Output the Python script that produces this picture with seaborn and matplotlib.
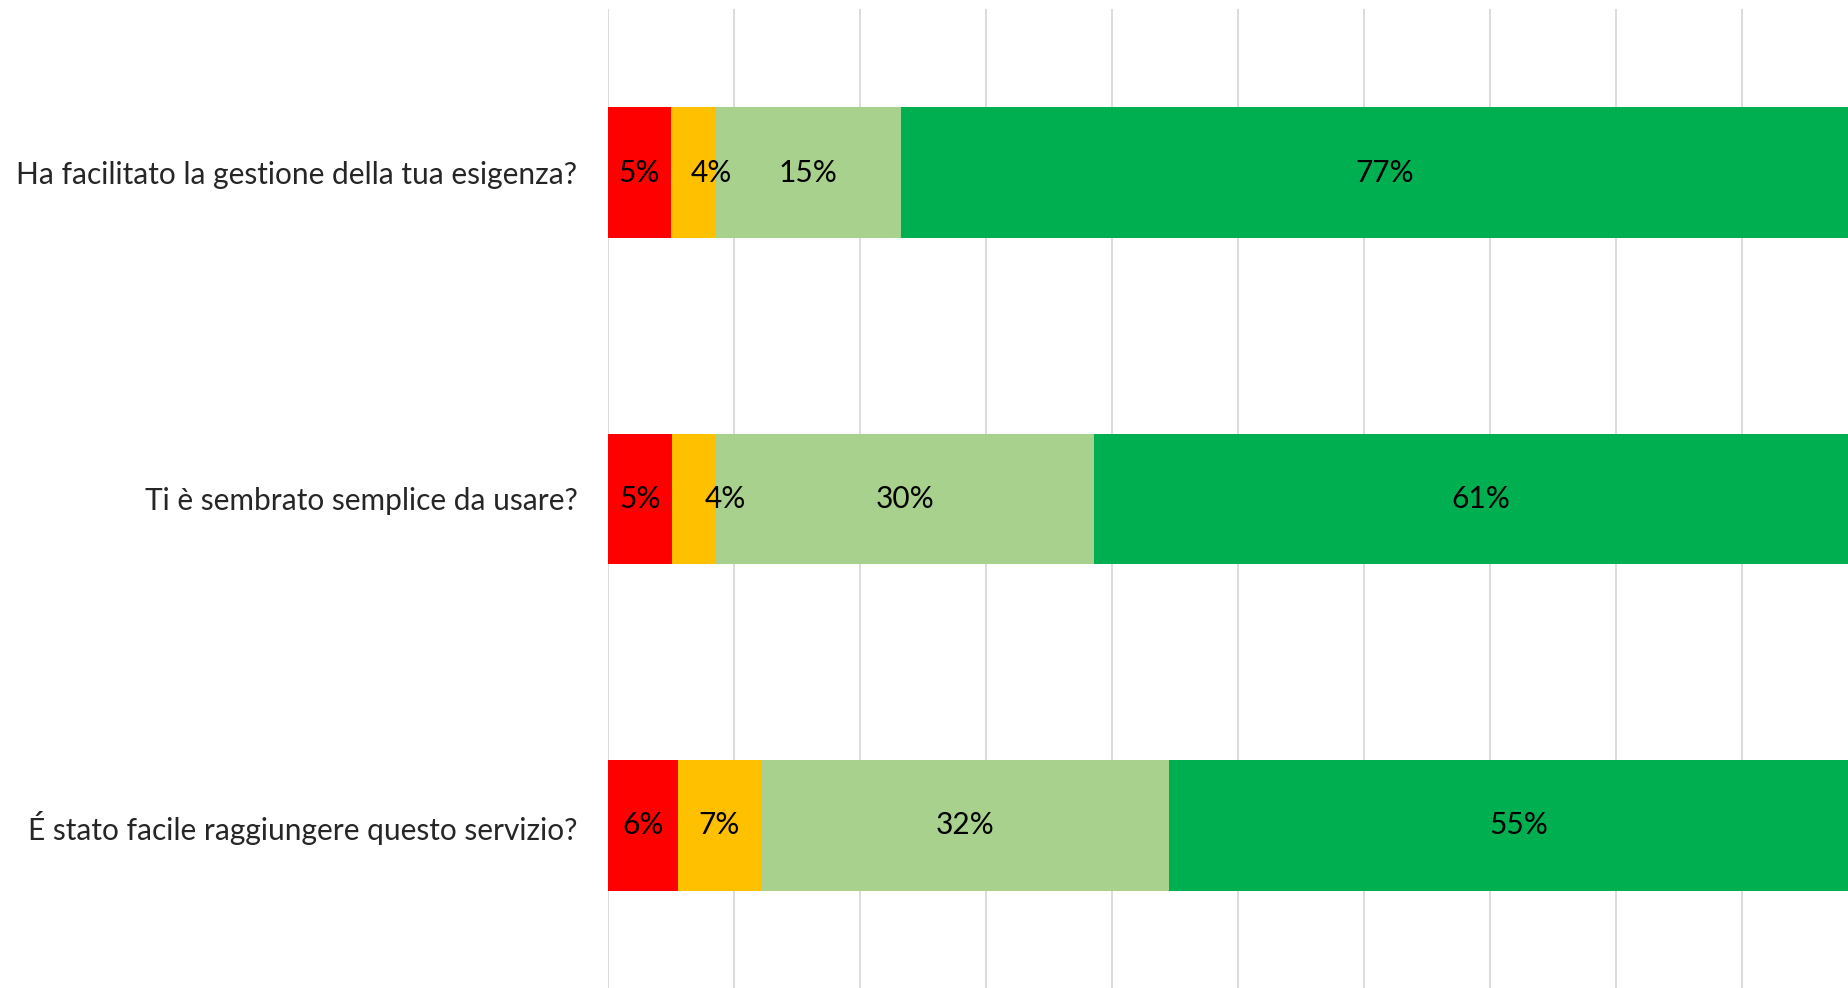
import numpy as np
import pandas as pd
import matplotlib
matplotlib.use("Agg")
import matplotlib.pyplot as plt
import seaborn as sns

# ---- data ----
questions = [
    "Ha facilitato la gestione della tua esigenza?",
    "Ti è sembrato semplice da usare?",
    "É stato facile raggiungere questo servizio?",
]
series_names = ["Per niente", "Poco", "Abbastanza", "Molto"]
red_vals = [5.0, 5.05, 5.54]
orange_vals = [3.55, 3.54, 6.58]
lightgreen_vals = [14.7, 29.96, 32.4]
darkgreen_vals = [76.75, 61.45, 55.48]

colors = ["#FF0000", "#FFC000", "#A9D18E", "#00B050"]
# small label nudges (in % units) to mimic the reference's label placement
label_nudge = {(0, 1): 1.4, (1, 1): 2.5}

sns.set_theme(style="white")
plt.rcParams['font.family'] = ['Lato', 'DejaVu Sans']

fig = plt.figure(figsize=(18.48, 9.88), dpi=100)
ax = fig.add_axes([0.329, -0.0007, 0.6818, 0.9913])

series = [red_vals, orange_vals, lightgreen_vals, darkgreen_vals]
df = pd.DataFrame({n: v for n, v in zip(series_names, series)}, index=questions)
cum = df.cumsum(axis=1)

# draw cumulative bars from largest to smallest so they appear stacked
for name, col in reversed(list(zip(series_names, colors))):
    sns.barplot(x=cum[name].values, y=questions, orient="h", color=col,
                saturation=1, width=0.4, linewidth=0, ax=ax)

# labels
for i, q in enumerate(questions):
    left = 0.0
    for j, name in enumerate(series_names):
        v = df.loc[q, name]
        xc = left + v / 2 + label_nudge.get((i, j), 0.0)
        ax.text(xc, i, f"{v:.0f}%", ha="center", va="center",
                fontsize=21.5, color="black")
        left += v

ax.set_xlim(0, 100)
ax.set_ylim(2.5, -0.5)
ax.set_xticks(np.arange(0, 101, 10))
ax.set_xticklabels([])
ax.xaxis.grid(True, color="#d9d9d9", linewidth=1.3)
ax.yaxis.grid(False)
ax.set_axisbelow(True)
ax.tick_params(axis="x", length=0)
ax.tick_params(axis="y", length=0, pad=22, labelsize=21.5)
for s in ax.spines.values():
    s.set_visible(False)
ax.set_xlabel("")
ax.set_ylabel("")

fig.savefig("out.png", dpi=100)
